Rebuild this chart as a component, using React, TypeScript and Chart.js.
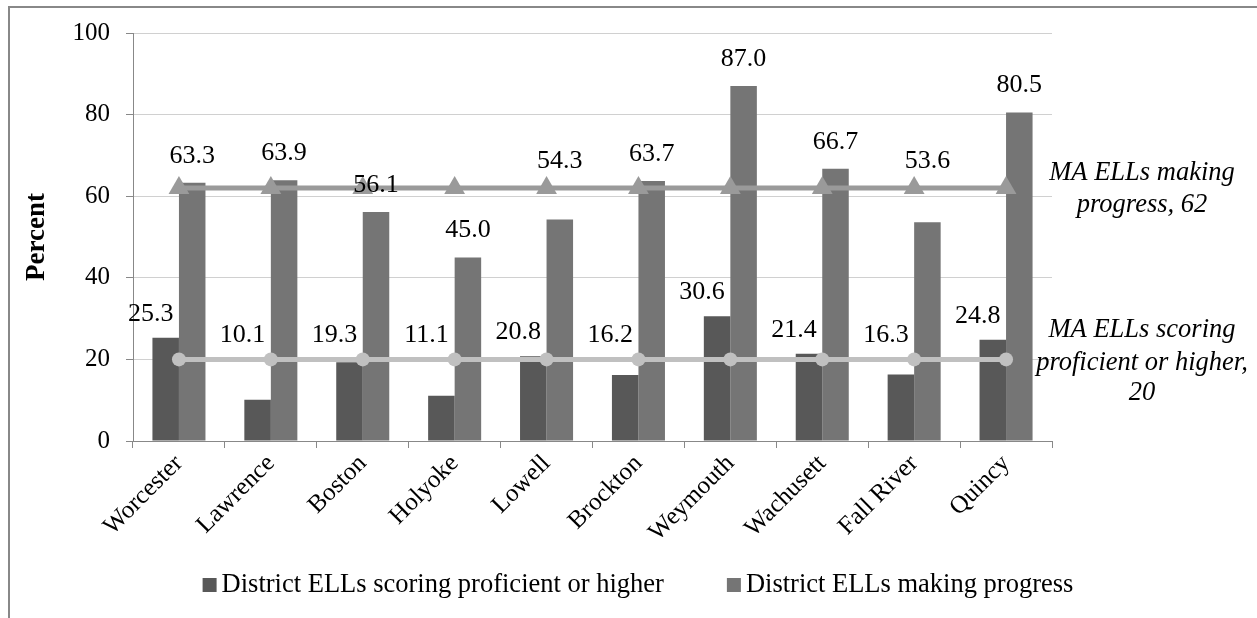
import React, { useEffect, useRef } from "react";
import { Chart, registerables } from "chart.js";

Chart.register(...registerables);

const categories = ["Worcester", "Lawrence", "Boston", "Holyoke", "Lowell", "Brockton", "Weymouth", "Wachusett", "Fall River", "Quincy"];
const proficient = [25.3, 10.1, 19.3, 11.1, 20.8, 16.2, 30.6, 21.4, 16.3, 24.8];
const progress = [63.3, 63.9, 56.1, 45.0, 54.3, 63.7, 87.0, 66.7, 53.6, 80.5];
const maProgress = [62, 62, 62, 62, 62, 62, 62, 62, 62, 62];
const maProficient = [20, 20, 20, 20, 20, 20, 20, 20, 20, 20];
const yTicks = [0, 20, 40, 60, 80, 100];
const seriesNames = ["District ELLs scoring proficient or higher", "District ELLs making progress"];
const maProgressNote = ["MA ELLs making", "progress, 62"];
const maProficientNote = ["MA ELLs scoring", "proficient or higher,", "20"];

const FONT = "'Liberation Serif', 'Times New Roman', serif";
const DARK = "#585858";
const LIGHT = "#757575";
const LINE1 = "#9a9a9a";
const LINE2 = "#c0c0c0";

const overlayPlugin = {
  id: "overlay",
  afterDatasetsDraw(chart: any) {
    const ctx = chart.ctx;
    const y = chart.scales.y;
    ctx.save();
    ctx.fillStyle = "#000";
    ctx.font = `26px ${FONT}`;
    ctx.textAlign = "center";
    ctx.textBaseline = "middle";
    const m0 = chart.getDatasetMeta(2);
    const m1 = chart.getDatasetMeta(3);
    proficient.forEach((v, i) => {
      const el = m0.data[i];
      const yy = y.getPixelForValue(Math.max(v, 20)) - 24;
      ctx.fillText(v.toFixed(1), el.x - 15, yy);
    });
    progress.forEach((v, i) => {
      const el = m1.data[i];
      const anchor = v >= 50 && v < 56 ? 62 : v;
      const yy = y.getPixelForValue(anchor) - 27;
      ctx.fillText(v.toFixed(1), el.x, yy);
    });
    ctx.restore();
  },
  afterDraw(chart: any) {
    const ctx = chart.ctx;
    const y = chart.scales.y;
    const area = chart.chartArea;
    ctx.save();
    ctx.fillStyle = "#000";
    ctx.textAlign = "center";
    ctx.textBaseline = "middle";
    ctx.font = `italic 26.5px ${FONT}`;
    const cx = area.right + 90;
    const p = y.getPixelForValue(maProgress[0]);
    ctx.fillText(maProgressNote[0], cx, p - 15);
    ctx.fillText(maProgressNote[1], cx, p + 17);
    const q = y.getPixelForValue(maProficient[0]);
    ctx.fillText(maProficientNote[0], cx, q - 29);
    ctx.fillText(maProficientNote[1], cx, q + 4);
    ctx.fillText(maProficientNote[2], cx, q + 34);

    // legend
    ctx.font = `26.5px ${FONT}`;
    ctx.textAlign = "left";
    const box = 14;
    const gapBT = 5;
    const gapItems = 63;
    const w0 = ctx.measureText(seriesNames[0]).width;
    const w1 = ctx.measureText(seriesNames[1]).width;
    const total = box + gapBT + w0 + gapItems + box + gapBT + w1;
    let x = 638 - total / 2;
    const ly = 585;
    ctx.fillStyle = DARK;
    ctx.fillRect(x, ly - 7, box, box);
    ctx.fillStyle = "#000";
    ctx.fillText(seriesNames[0], x + box + gapBT, ly);
    x += box + gapBT + w0 + gapItems;
    ctx.fillStyle = LIGHT;
    ctx.fillRect(x, ly - 7, box, box);
    ctx.fillStyle = "#000";
    ctx.fillText(seriesNames[1], x + box + gapBT, ly);
    ctx.restore();
  },
};

export default function App() {
  const ref = useRef<HTMLCanvasElement>(null);
  useEffect(() => {
    if (!ref.current) return;
    const chart = new Chart(ref.current, {
      type: "bar",
      data: {
        labels: categories,
        datasets: [
          {
            type: "line",
            label: "MA ELLs making progress",
            data: maProgress,
            borderColor: LINE1,
            backgroundColor: LINE1,
            borderWidth: 5,
            pointStyle: "triangle",
            pointRadius: 12,
            pointBorderWidth: 0,
            pointBackgroundColor: LINE1,
            order: 0,
          } as any,
          {
            type: "line",
            label: "MA ELLs scoring proficient or higher",
            data: maProficient,
            borderColor: LINE2,
            backgroundColor: LINE2,
            borderWidth: 5,
            pointStyle: "circle",
            pointRadius: 7,
            pointBorderWidth: 0,
            pointBackgroundColor: LINE2,
            order: 1,
          } as any,
          {
            label: seriesNames[0],
            data: proficient,
            backgroundColor: DARK,
            categoryPercentage: 0.577,
            barPercentage: 1,
            order: 2,
          },
          {
            label: seriesNames[1],
            data: progress,
            backgroundColor: LIGHT,
            categoryPercentage: 0.577,
            barPercentage: 1,
            order: 2,
          },
        ],
      },
      options: {
        animation: false,
        responsive: false,
        devicePixelRatio: 1,
        layout: { padding: { top: 33, left: 0, right: 0, bottom: 0 } },
        plugins: {
          legend: { display: false },
          tooltip: { enabled: false },
        },
        scales: {
          x: {
            offset: true,
            grid: { display: true, drawOnChartArea: false, tickLength: 7, color: "#888", offset: true },
            border: { color: "#888" },
            ticks: {
              autoSkip: false,
              maxRotation: 45,
              minRotation: 45,
              padding: 1,
              color: "#000",
              font: { family: FONT, size: 25 },
            },
            afterFit: (s: any) => {
              s.height = 177;
            },
          },
          y: {
            min: 0,
            max: 100,
            afterBuildTicks: (s: any) => {
              s.ticks = yTicks.map((v) => ({ value: v }));
            },
            grid: { color: "#d0d0d0", tickColor: "#888", tickLength: 7 },
            border: { color: "#888" },
            ticks: { padding: 16, color: "#000", font: { family: FONT, size: 25 } },
            title: {
              display: true,
              text: "Percent",
              color: "#000",
              font: { family: FONT, size: 27, weight: "bold" },
              padding: { top: 21, bottom: 0 },
            },
            afterFit: (s: any) => {
              s.width = 133;
            },
          },
          y2: {
            position: "right",
            display: true,
            grid: { display: false, drawOnChartArea: false },
            border: { display: false },
            ticks: { display: false },
            afterFit: (s: any) => {
              s.width = 205;
            },
          },
        },
      },
      plugins: [overlayPlugin],
    });
    return () => chart.destroy();
  }, []);

  return (
    <div style={{ position: "fixed", left: 0, top: 0, width: 1257, height: 618, background: "#fff", overflow: "hidden" }}>
      <div
        style={{
          position: "absolute",
          left: 8,
          top: 6,
          width: 1300,
          height: 700,
          borderTop: "2px solid #888",
          borderLeft: "2px solid #888",
        }}
      />
      <canvas ref={ref} width={1257} height={618} style={{ position: "absolute", left: 0, top: 0 }} />
    </div>
  );
}
